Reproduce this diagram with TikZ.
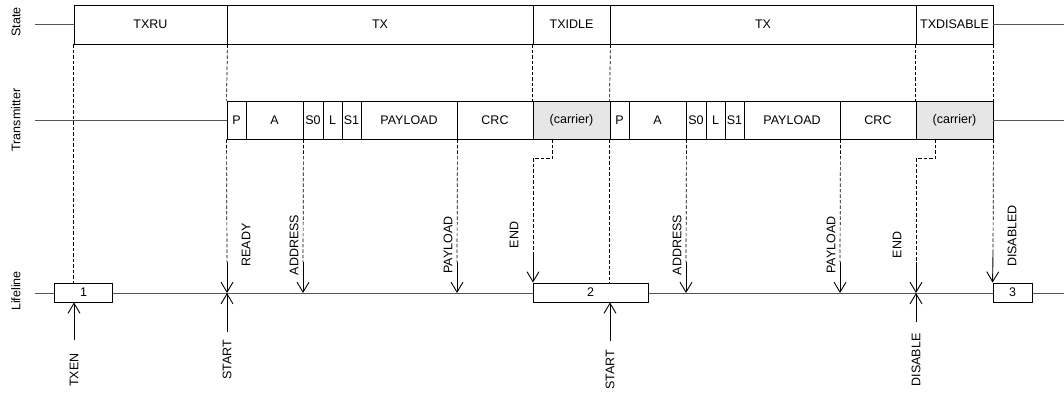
\documentclass[tikz,border=0pt]{standalone}
\usepackage{fontspec}
\setmainfont{Liberation Sans}
\usetikzlibrary{arrows.meta}
\definecolor{leadgray}{HTML}{555555}
\definecolor{carriergray}{HTML}{E6E6E6}

\begin{document}
\begin{tikzpicture}[x=1pt,y=-1pt,
  font=\fontsize{12.5}{15}\selectfont,
  statebox/.style={draw,line width=0.9pt,inner sep=1pt,minimum height=39pt},
  field/.style={draw,line width=0.9pt,inner sep=0.5pt,minimum height=38pt},
  carrier/.style={field,fill=carriergray},
  lifebox/.style={draw,fill=white,line width=0.9pt,inner sep=1pt,minimum height=19pt},
  lead/.style={leadgray,line width=0.9pt},
  guide/.style={black,line width=0.7pt,dash pattern=on 3.5pt off 2pt},
  event/.style={line width=0.9pt,-{Straight Barb[length=10pt,width=12pt]}},
  evtext/.style={rotate=90,inner sep=1pt}]
\useasboundingbox (0,0) rectangle (1064,394);

% row names
\node[rotate=90] (rstate) at (16,22) {State};
\node[rotate=90] (rtx) at (16,120) {Transmitter};
\node[rotate=90] (rlife) at (16,291) {Lifeline};

% state row
\node[statebox,minimum width=153pt] (txru) at (150.5,24.5) {TXRU};
\node[statebox,minimum width=306pt] (tx1) at (380,24.5) {TX};
\node[statebox,minimum width=77pt] (txidle) at (571.5,24.5) {TXIDLE};
\node[statebox,minimum width=306pt] (tx2) at (763,24.5) {TX};
\node[statebox,minimum width=77pt] (txdis) at (954.5,24.5) {TXDISABLE};
\coordinate (sl) at (35,24.5);
\coordinate (sr) at (1064,24.5);
\draw[lead] (sl) -- (txru.west);
\draw[lead] (txdis.east) -- (sr);

% transmitter row, two packets
\foreach \f/\o in {1/0,2/383} {
  \node[field,minimum width=19pt] (p\f) at ({236.5+\o},120) {P};
  \node[field,minimum width=57pt] (a\f) at ({274.5+\o},120) {A};
  \node[field,minimum width=20pt] (sa\f) at ({313+\o},120) {S0};
  \node[field,minimum width=19pt] (l\f) at ({332.5+\o},120) {L};
  \node[field,minimum width=19pt] (sb\f) at ({351.5+\o},120) {S1};
  \node[field,minimum width=96pt] (pl\f) at ({409+\o},120) {PAYLOAD};
  \node[field,minimum width=76pt] (crc\f) at ({495+\o},120) {CRC};
  \node[carrier,minimum width=77pt] (car\f) at ({571.5+\o},120) {(carrier)};
}
\coordinate (tl) at (35,120);
\coordinate (tr) at (1064,120);
\draw[lead] (tl) -- (p1.west);
\draw[lead] (car2.east) -- (tr);

% lifeline
\coordinate (ll) at (35,293);
\coordinate (lr) at (1064,293);
\draw[lead] (ll) -- (lr);
\node[lifebox,minimum width=58pt] (b1) at (83.5,292.5) {1};
\node[lifebox,minimum width=115pt] (b2) at (590.5,292.5) {2};
\node[lifebox,minimum width=39pt] (b3) at (1012.5,292.5) {3};

% guides from the state row
\draw[guide] (txru.south west) -- (txru.south west |- b1.north);
\draw[guide] (txru.south east) -- (p1.north west);
\draw[guide] (txidle.south west) -- (car1.north west);
\draw[guide] (txidle.south east) -- (p2.north west);
\draw[guide] (txdis.south west) -- (car2.north west);
\draw[guide] (txdis.south east) -- (car2.north east);

% guides from the transmitter row
\coordinate (gready) at (227,262);
\coordinate (gaddr1) at (303,262);
\coordinate (gpay1) at (457,262);
\coordinate (gend1) at (533,252);
\coordinate (gaddr2) at (686,262);
\coordinate (gpay2) at (840,262);
\coordinate (gend2) at (916,262);
\coordinate (gdis) at (993,253);
\draw[guide] (p1.south west) -- (gready);
\draw[guide] (a1.south east) -- (gaddr1);
\draw[guide] (pl1.south east) -- (gpay1);
\draw[guide] ([xshift=20pt]car1.south west) -- ++(0,19) -| (gend1);
\draw[guide] (p2.south west) -- (p2.south west |- b2.north);
\draw[guide] (a2.south east) -- (gaddr2);
\draw[guide] (pl2.south east) -- (gpay2);
\draw[guide] ([xshift=20pt]car2.south west) -- ++(0,19) -| (gend2);
\draw[guide] (car2.south east) -- (gdis);

% events onto the lifeline
\draw[event] (gready) -- (gready |- ll);
\draw[event] (gaddr1) -- (gaddr1 |- ll);
\draw[event] (gpay1) -- (gpay1 |- ll);
\draw[event] (gend1) -- (gend1 |- b2.north);
\draw[event] (gaddr2) -- (gaddr2 |- ll);
\draw[event] (gpay2) -- (gpay2 |- ll);
\draw[event] (gend2) -- (gend2 |- ll);
\draw[event] (gdis) -- (b3.north west);

% tasks from below
\coordinate (ctxen) at (74,340);
\coordinate (cstart1) at (227,332);
\coordinate (cstart2) at (610,341);
\coordinate (cdisable) at (916,322);
\draw[event] (ctxen) -- (ctxen |- b1.south);
\draw[event] (cstart1) -- (cstart1 |- ll);
\draw[event] (cstart2) -- (cstart2 |- b2.south);
\draw[event] (cdisable) -- (cdisable |- ll);

% event names
\node[evtext] (nready) at (246,245) {READY};
\node[evtext] (naddr1) at (294,245) {ADDRESS};
\node[evtext] (npay1) at (448,245) {PAYLOAD};
\node[evtext] (nend1) at (514,235) {END};
\node[evtext] (naddr2) at (677,245) {ADDRESS};
\node[evtext] (npay2) at (831,245) {PAYLOAD};
\node[evtext] (nend2) at (897,245) {END};
\node[evtext] (ndis) at (1012,236) {DISABLED};

% task names
\node[evtext] (ntxen) at (74,370) {TXEN};
\node[evtext] (nstart1) at (227,360) {START};
\node[evtext] (nstart2) at (610,370) {START};
\node[evtext] (ndisable) at (916,360) {DISABLE};
\end{tikzpicture}
\end{document}
